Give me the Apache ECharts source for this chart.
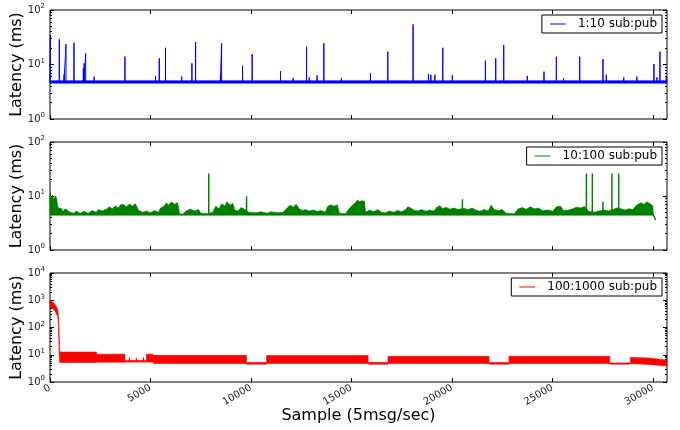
<!DOCTYPE html>
<html><head><meta charset="utf-8">
<script src="https://cdn.jsdelivr.net/npm/echarts@6/dist/echarts.min.js"></script>
<style>html,body{margin:0;padding:0;background:#fff}#c{width:680px;height:430px}</style>
</head><body><div id="c"></div>
<script>
// ---------- data ----------
const xTicks = [0, 5000, 10000, 15000, 20000, 25000, 30000];
const xMax = 30700;
const names = ['1:10 sub:pub', '10:100 sub:pub', '100:1000 sub:pub'];
const yMaxes = [100, 100, 10000];
const yMajor2 = [1, 10, 100];
const yMajor4 = [1, 10, 100, 1000, 10000];
const yMinor2 = [2,3,4,5,6,7,8,9,20,30,40,50,60,70,80,90];
const yMinor4 = [2,3,4,5,6,7,8,9,20,30,40,50,60,70,80,90,200,300,400,500,600,700,800,900,2000,3000,4000,5000,6000,7000,8000,9000];

// 1:10 — baseline band [x, upper, lower] and spikes [x, peak]
const blueBase = 4.8;
const blueBand = [[0, 5.05, 4.55], [30700, 5.05, 4.55]];
const blueSpikes = [
  [15, 34.8], [463, 29], [700, 6.6], [796, 23.5], [1193, 25], [1660, 8.5], [1700, 10.5],
  [1775, 16], [2200, 6], [3730, 13.9], [5250, 6.2], [5436, 13], [5750, 20.3], [6550, 6],
  [7061, 10.5], [7245, 25.9], [8480, 6.4], [8538, 24.5], [9582, 9.5], [10060, 15.6],
  [11470, 7.6], [12100, 5.7], [12765, 21.2], [12900, 5.8], [13290, 6.3], [13625, 24.5],
  [14500, 5.6], [15946, 6.9], [16808, 17.2], [18066, 54.6], [18830, 6.7], [18950, 6.5],
  [19150, 6.5], [19543, 20.3], [20020, 6.4], [21665, 11.7], [22178, 13], [22576, 22.8],
  [23750, 6.2], [24580, 7.4], [25195, 13.9], [25550, 5.6], [26355, 13.9], [27514, 12.5],
  [27680, 6.5], [28550, 5.8], [29200, 6.0], [30050, 10.2], [30200, 5.8], [30348, 17.2],
  [30665, 6]
];

// 10:100 — baseline, upper envelope of the fuzz [x, upper], spikes [x, peak]
const greenBase = 4.5;
const greenEnd = [[30020, 4.5], [30080, 4.0], [30130, 3.6]];
const greenEnv = [
  [0, 11.5], [60, 9], [120, 10.5], [180, 8.5], [250, 10], [320, 9.5], [380, 6.5], [450, 5.8],
  [550, 6], [650, 5.2], [750, 5.8], [850, 5.5], [1000, 5.0], [1200, 4.8], [1300, 5.3],
  [1500, 4.8], [1700, 5.2], [1900, 4.8], [2100, 5.4], [2300, 5.0], [2400, 5.6], [2600, 5.3],
  [2800, 5.7], [2950, 6.3], [3100, 5.8], [3250, 6.5], [3400, 6.0], [3500, 6.8], [3650, 7.0],
  [3800, 6.3], [3950, 7.1], [4100, 6.5], [4250, 7.2], [4400, 5.5], [4600, 5.0], [4800, 5.3],
  [5000, 4.9], [5200, 5.4], [5400, 5.0], [5500, 6.0], [5650, 6.4], [5800, 7.4], [5900, 6.8],
  [6050, 7.8], [6200, 7.0], [6350, 7.6], [6450, 4.7], [6600, 4.6], [6800, 5.4], [7000, 5.7],
  [7200, 5.3], [7400, 5.6], [7500, 4.8], [7800, 4.7], [8100, 5.0], [8250, 6.5], [8400, 5.8],
  [8550, 7.2], [8700, 6.5], [8800, 7.8], [8950, 6.8], [9100, 7.3], [9200, 5.5], [9350, 5.3],
  [9500, 6.1], [9650, 5.8], [9900, 5.0], [10200, 4.9], [10500, 5.1], [10800, 4.8], [11000, 5.1],
  [11300, 4.9], [11600, 5.0], [11800, 6.0], [11950, 6.8], [12100, 6.2], [12250, 7.0],
  [12400, 5.8], [12550, 5.4], [12700, 5.6], [12900, 5.3], [13100, 5.5], [13300, 5.2],
  [13500, 5.4], [13700, 5.0], [13800, 6.3], [13950, 6.9], [14100, 6.5], [14300, 6.8],
  [14400, 4.8], [14700, 4.7], [14850, 5.6], [15000, 6.5], [15150, 7.3], [15300, 8.4],
  [15400, 7.8], [15500, 8.2], [15650, 8.0], [15700, 5.0], [15900, 5.5], [16100, 5.1],
  [16300, 5.6], [16500, 5.0], [16700, 4.9], [16900, 5.3], [17100, 5.0], [17300, 5.4],
  [17500, 5.1], [17700, 5.6], [17800, 6.3], [17950, 6.0], [18100, 5.5], [18300, 5.3],
  [18500, 5.6], [18700, 5.2], [18900, 5.5], [19100, 5.3], [19250, 6.2], [19400, 6.6],
  [19550, 5.8], [19700, 6.2], [19900, 5.7], [20100, 6.0], [20300, 5.6], [20600, 5.9],
  [20800, 5.6], [21000, 6.0], [21200, 5.5], [21400, 5.2], [21600, 5.6], [21800, 5.3],
  [21950, 6.8], [22100, 5.6], [22300, 5.4], [22500, 5.6], [22700, 4.8], [23100, 4.7],
  [23300, 5.8], [23500, 6.1], [23700, 5.7], [23900, 6.3], [24100, 5.8], [24300, 6.0],
  [24500, 5.4], [24800, 5.5], [25000, 5.2], [25200, 6.3], [25400, 6.5], [25550, 5.4],
  [25800, 5.5], [26000, 5.8], [26200, 6.2], [26400, 6.0], [26600, 6.4], [26800, 5.2],
  [27100, 5.0], [27300, 5.3], [27600, 5.5], [27800, 5.3], [28000, 5.6], [28200, 6.0],
  [28400, 5.8], [28600, 5.5], [28800, 5.8], [29000, 5.6], [29200, 6.8], [29400, 7.5],
  [29550, 7.0], [29700, 7.8], [29850, 7.2], [30000, 6.5], [30020, 4.5]
];
const greenSpikes = [[7900, 26], [9780, 9.9], [20520, 8.7], [26690, 26], [26985, 26], [27510, 7.8], [27960, 26], [28295, 26]];

// 100:1000 — band [x, upper, lower] and small spikes [x, peak]
const redBand = [
  [0, 1000, 550], [100, 900, 520], [200, 780, 450], [300, 620, 350], [380, 460, 260],
  [420, 280, 120], [450, 60, 20], [480, 13, 5.2], [600, 12.5, 5.2], [2320, 12.5, 5.2],
  [2320, 10.5, 5.3], [3730, 10.5, 5.3], [3730, 6.2, 5.4], [4800, 6.2, 5.4], [4800, 10.5, 5.4],
  [5130, 10.5, 5.4], [5130, 9.5, 4.8], [9780, 9.5, 4.8], [9780, 5.2, 4.5], [10775, 5.2, 4.5],
  [10775, 9.3, 4.8], [15830, 9.3, 4.8], [15830, 5.2, 4.5], [16820, 5.2, 4.5], [16820, 8.8, 4.8],
  [21845, 8.8, 4.8], [21845, 5.2, 4.5], [22840, 5.2, 4.5], [22840, 8.8, 4.8], [27850, 8.8, 4.8],
  [27850, 5.0, 4.5], [28875, 5.0, 4.5], [28875, 8.0, 4.8], [29800, 7.6, 4.4], [30665, 6.4, 3.9]
];
const redBase = 5.7;
const redSpikes = [[3950, 7.8], [4300, 7.5], [4650, 7.8]];

// ---------- build ----------
const FONT = 'DejaVu Sans';
const colors = ['#0000ff', '#008000', '#ff0000'];
const gridTops = [10, 142, 273];
const gridHeights = [109, 108, 109];

function spikeLine(base, spikes, start, end) {
  const d = [];
  if (start) d.push(start);
  spikes.forEach(s => { d.push([s[0], base], [s[0], s[1]], [s[0], base]); });
  if (end) end.forEach(e => d.push(e));
  return d;
}
function bandRender(band, color) {
  return function (params, api) {
    if (params.dataIndex !== 0) return null;
    const pts = [];
    band.forEach(p => pts.push(api.coord([p[0], p[1]])));
    for (let k = band.length - 1; k >= 0; k--) pts.push(api.coord([band[k][0], band[k][2]]));
    return { type: 'polygon', shape: { points: pts }, style: { fill: color, stroke: color, lineWidth: 0.6 } };
  };
}

const grid = [], xAxis = [], yAxis = [], legend = [], series = [];
for (let i = 0; i < 3; i++) {
  grid.push({ left: 50, right: 13, top: gridTops[i], height: gridHeights[i], show: true,
    outerBoundsMode: 'none', containLabel: false,
    borderColor: '#000', borderWidth: 1, backgroundColor: 'transparent' });
  const xBase = { gridIndex: i, type: 'value', min: 0, max: xMax, interval: 5000,
    axisLine: { show: false }, splitLine: { show: false },
    axisTick: { inside: true, length: 4, customValues: xTicks, lineStyle: { color: '#000' } } };
  xAxis.push(Object.assign({}, xBase, { position: 'bottom',
    axisLabel: { show: i === 2, customValues: xTicks, rotate: 30, fontSize: 10, fontFamily: FONT, color: '#222', margin: 5,
      formatter: v => String(v) },
    name: i === 2 ? 'Sample (5msg/sec)' : '', nameLocation: 'middle', nameGap: 26, nameMoveOverlap: false,
    nameTextStyle: { fontSize: 16, fontFamily: FONT, color: '#000' } }));
  xAxis.push(Object.assign({}, xBase, { position: 'top', axisLabel: { show: false } }));

  const maj = i === 2 ? yMajor4 : yMajor2;
  const mnr = i === 2 ? yMinor4 : yMinor2;
  const yb = { gridIndex: i, type: 'log', logBase: 10, min: 1, max: yMaxes[i],
    axisLine: { show: false }, splitLine: { show: false }, minorTick: { show: false } };
  yAxis.push(Object.assign({}, yb, { position: 'left',
    axisTick: { inside: true, length: 4, customValues: maj, lineStyle: { color: '#000' } },
    axisLabel: { customValues: maj, margin: 5, color: '#222',
      formatter: v => '{b|10}{s|' + Math.round(Math.log10(v)) + '}',
      rich: { b: { fontSize: 10, fontFamily: FONT, color: '#222' },
              s: { fontSize: 7, fontFamily: FONT, color: '#222', padding: [0, 0, 7, 0] } } },
    name: 'Latency (ms)', nameLocation: 'middle', nameGap: 25, nameMoveOverlap: false,
    nameTextStyle: { fontSize: 16, fontFamily: FONT, color: '#000' } }));
  yAxis.push(Object.assign({}, yb, { position: 'left',
    axisTick: { inside: true, length: 2, customValues: mnr, lineStyle: { color: '#000' } }, axisLabel: { show: false } }));
  yAxis.push(Object.assign({}, yb, { position: 'right',
    axisTick: { inside: true, length: 4, customValues: maj, lineStyle: { color: '#000' } }, axisLabel: { show: false } }));
  yAxis.push(Object.assign({}, yb, { position: 'right',
    axisTick: { inside: true, length: 2, customValues: mnr, lineStyle: { color: '#000' } }, axisLabel: { show: false } }));

  legend.push({ data: [names[i]], right: 18, top: gridTops[i] + 5, selectedMode: false,
    borderColor: '#000', borderWidth: 1, borderRadius: 0, padding: [3, 5, 3, 8], backgroundColor: '#fff',
    icon: 'rect', itemWidth: 16, itemHeight: 1,
    textStyle: { fontSize: 12, fontFamily: FONT, color: '#000', padding: [0, 0, 0, 7] } });
}

const xi = i => i * 2, yi = i => i * 4;
// blue
series.push({ type: 'custom', name: 'blueBand', xAxisIndex: xi(0), yAxisIndex: yi(0), data: [[0, 5]],
  renderItem: bandRender(blueBand, colors[0]), silent: true });
series.push({ type: 'line', name: names[0], xAxisIndex: xi(0), yAxisIndex: yi(0), color: colors[0],
  showSymbol: false, symbol: 'none', lineStyle: { width: 1, color: colors[0] },
  data: spikeLine(blueBase, blueSpikes, [0, blueBase], [[30700, blueBase]]) });
// green
const greenBand = [[0, greenBase, greenBase]].concat(greenEnv.map(p => [p[0], p[1], greenBase]));
series.push({ type: 'custom', name: 'greenFuzz', xAxisIndex: xi(1), yAxisIndex: yi(1), data: [[0, 5]],
  renderItem: bandRender(greenBand, colors[1]), silent: true });
series.push({ type: 'line', name: names[1], xAxisIndex: xi(1), yAxisIndex: yi(1), color: colors[1],
  showSymbol: false, symbol: 'none', lineStyle: { width: 1.5, color: colors[1] },
  data: spikeLine(greenBase, greenSpikes, [0, greenBase], greenEnd) });
// red
series.push({ type: 'custom', name: 'redBand', xAxisIndex: xi(2), yAxisIndex: yi(2), data: [[0, 5]],
  renderItem: bandRender(redBand, colors[2]), silent: true });
series.push({ type: 'line', name: names[2], xAxisIndex: xi(2), yAxisIndex: yi(2), color: colors[2],
  showSymbol: false, symbol: 'none', lineStyle: { width: 1, color: colors[2] },
  data: spikeLine(redBase, redSpikes, null, null) });

const chart = echarts.init(document.getElementById('c'), null, { renderer: 'canvas' });
chart.setOption({ animation: false, backgroundColor: '#fff', grid, xAxis, yAxis, legend, series });
</script></body></html>
